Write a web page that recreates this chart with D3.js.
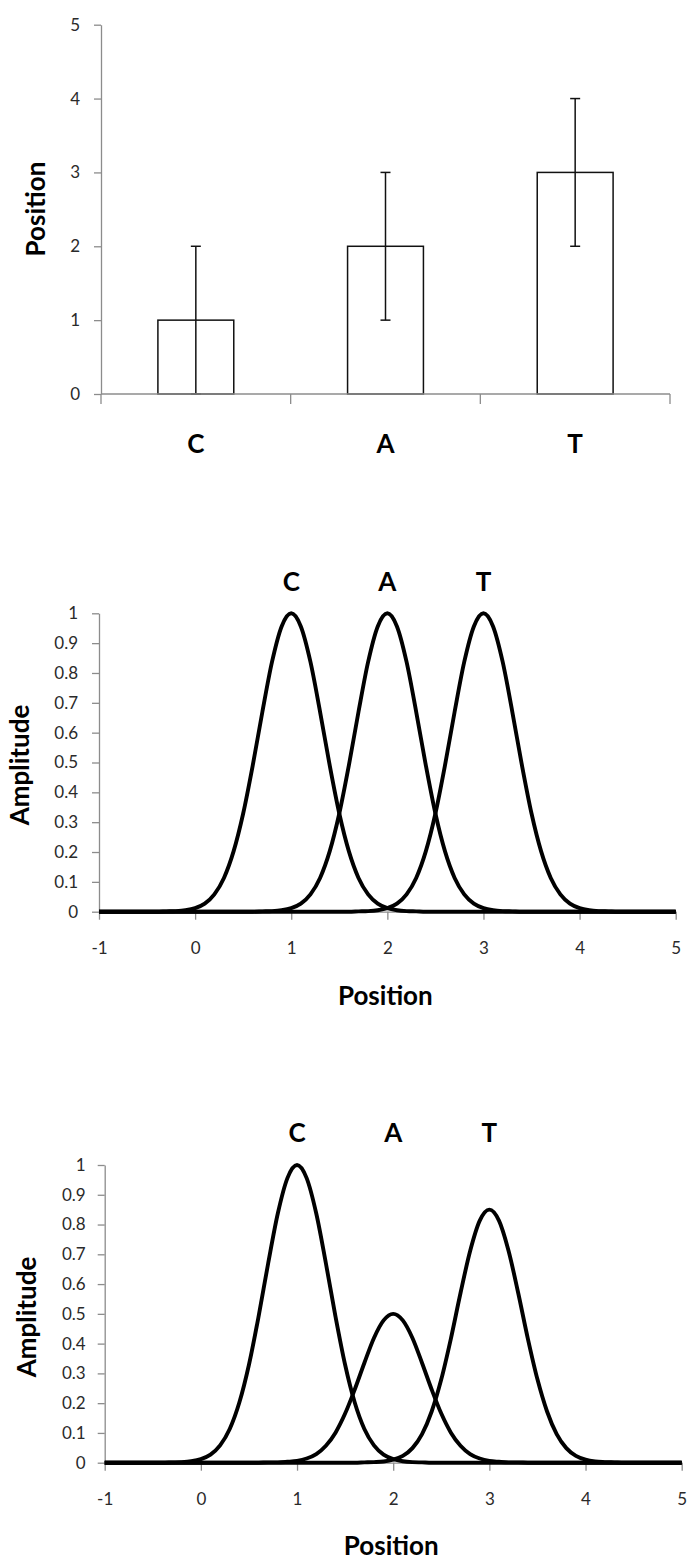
<!DOCTYPE html>
<html><head><meta charset="utf-8">
<script src="https://cdn.jsdelivr.net/npm/d3@7"></script>
<style>
body{margin:0;background:#fff}
svg{display:block}
text{font-family:Lato,"Open Sans",sans-serif}
</style>
</head><body>
<svg id="chart" width="689" height="1563"></svg>
<script>
// ---------- Data: bar chart ----------
const categories = ["C", "A", "T"];
const barValues = [1, 2, 3];
const barErrors = [1, 1, 1];
const barTicks = [0, 1, 2, 3, 4, 5];

// ---------- Data: amplitude charts ----------
const samplePositions = [-1,-0.9,-0.8,-0.7,-0.6,-0.5,-0.4,-0.3,-0.2,-0.1,0,0.1,0.2,0.3,0.4,0.5,0.6,0.7,0.8,0.9,1,1.1,1.2,1.3,1.4,1.5,1.6,1.7,1.8,1.9,2,2.1,2.2,2.3,2.4,2.5,2.6,2.7,2.8,2.9,3,3.1,3.2,3.3,3.4,3.5,3.6,3.7,3.8,3.9,4,4.1,4.2,4.3,4.4,4.5,4.6,4.7,4.8,4.9,5];
const ampTicks = [0, 0.1, 0.2, 0.3, 0.4, 0.5, 0.6, 0.7, 0.8, 0.9, 1];
const posTicks = [-1, 0, 1, 2, 3, 4, 5];
const peakLabels = ["C", "A", "T"];
const peakPositions = [1, 2, 3];

const equalC = [0,0,0,0,0,0,0,
  0.001,0.002,0.005,0.012,0.027,0.058,0.113,0.202,0.329,0.491,0.670,0.837,0.956,1,0.956,0.837,0.670,0.491,0.329,0.202,0.113,0.058,0.027,0.012,0.005,0.002,0.001,
  0,0,0,0,0,0,0,0,0, 0,0,0,0,0,0,0,0,0, 0,0,0,0,0,0,0,0,0];
const equalA = [0,0,0,0,0,0,0,0,0, 0,0,0,0,0,0,0,0,
  0.001,0.002,0.005,0.012,0.027,0.058,0.113,0.202,0.329,0.491,0.670,0.837,0.956,1,0.956,0.837,0.670,0.491,0.329,0.202,0.113,0.058,0.027,0.012,0.005,0.002,0.001,
  0,0,0,0,0,0,0,0,0, 0,0,0,0,0,0,0,0];
const equalT = [0,0,0,0,0,0,0,0,0, 0,0,0,0,0,0,0,0,0, 0,0,0,0,0,0,0,0,0,
  0.001,0.002,0.005,0.012,0.027,0.058,0.113,0.202,0.329,0.491,0.670,0.837,0.956,1,0.956,0.837,0.670,0.491,0.329,0.202,0.113,0.058,0.027,0.012,0.005,0.002,0.001,
  0,0,0,0,0,0,0];

const unequalC = [0,0,0,0,0,0,0,
  0.001,0.002,0.005,0.012,0.027,0.058,0.113,0.202,0.329,0.491,0.670,0.837,0.956,1,0.956,0.837,0.670,0.491,0.329,0.202,0.113,0.058,0.027,0.012,0.005,0.002,0.001,
  0,0,0,0,0,0,0,0,0, 0,0,0,0,0,0,0,0,0, 0,0,0,0,0,0,0,0,0];
const unequalA = [0,0,0,0,0,0,0,0,0, 0,0,0,0,0,0,0,0,
  0.001,0.001,0.003,0.006,0.014,0.029,0.057,0.101,0.165,0.246,0.335,0.419,0.478,0.5,0.478,0.419,0.335,0.246,0.165,0.101,0.057,0.029,0.014,0.006,0.003,0.001,0.001,
  0,0,0,0,0,0,0,0,0, 0,0,0,0,0,0,0,0];
const unequalT = [0,0,0,0,0,0,0,0,0, 0,0,0,0,0,0,0,0,0, 0,0,0,0,0,0,0,0,0,
  0.001,0.002,0.004,0.010,0.023,0.049,0.096,0.172,0.280,0.417,0.570,0.711,0.813,0.85,0.813,0.711,0.570,0.417,0.280,0.172,0.096,0.049,0.023,0.010,0.004,0.002,0.001,
  0,0,0,0,0,0,0];

// ---------- Styling ----------
const axisColor = "#8c8c8c";
const tickTextColor = "#2a2a2a";
const tickFont = 17;
const titleFont = 26;

const svg = d3.select("#chart");

function styleAxis(sel) {
  sel.select(".domain").attr("stroke", axisColor).attr("stroke-width", 1.3);
  sel.selectAll(".tick line").attr("stroke", axisColor).attr("stroke-width", 1.3);
  sel.selectAll(".tick text").attr("fill", tickTextColor).style("font-size", tickFont + "px");
  sel.attr("font-family", null).attr("font-size", null);
}

// ================= Chart 1: bars =================
(function () {
  const x = d3.scaleBand().domain(categories).range([101, 670]);
  const y = d3.scaleLinear().domain([0, 5]).range([394, 24.7]);
  const g = svg.append("g");
  const bw = x.bandwidth();

  g.selectAll("rect.bar").data(categories).join("rect")
    .attr("class", "bar")
    .attr("x", d => x(d) + bw * 0.3)
    .attr("width", bw * 0.4)
    .attr("y", (d, i) => y(barValues[i]))
    .attr("height", (d, i) => y(0) - y(barValues[i]))
    .attr("fill", "#fff").attr("stroke", "#111").attr("stroke-width", 1.5);

  const eb = g.selectAll("g.err").data(categories).join("g").attr("class", "err");
  eb.append("line")
    .attr("x1", d => x(d) + bw / 2).attr("x2", d => x(d) + bw / 2)
    .attr("y1", (d, i) => y(barValues[i] + barErrors[i]))
    .attr("y2", (d, i) => y(barValues[i] - barErrors[i]));
  eb.append("line")
    .attr("x1", d => x(d) + bw / 2 - 5).attr("x2", d => x(d) + bw / 2 + 5)
    .attr("y1", (d, i) => y(barValues[i] + barErrors[i]))
    .attr("y2", (d, i) => y(barValues[i] + barErrors[i]));
  eb.append("line")
    .attr("x1", d => x(d) + bw / 2 - 5).attr("x2", d => x(d) + bw / 2 + 5)
    .attr("y1", (d, i) => y(barValues[i] - barErrors[i]))
    .attr("y2", (d, i) => y(barValues[i] - barErrors[i]));
  eb.selectAll("line").attr("stroke", "#111").attr("stroke-width", 1.5);

  const ya = g.append("g").attr("transform", "translate(101,0)")
    .call(d3.axisLeft(y).tickValues(barTicks).tickSize(7).tickSizeOuter(0).tickPadding(14).tickFormat(d => String(d)));
  styleAxis(ya);

  const bounds = categories.map(c => x(c)).concat([x.range()[1]]);
  g.append("line").attr("x1", x.range()[0]).attr("x2", x.range()[1])
    .attr("y1", y(0)).attr("y2", y(0)).attr("stroke", axisColor).attr("stroke-width", 1.3);
  g.selectAll("line.xt").data(bounds).join("line").attr("class", "xt")
    .attr("x1", d => d).attr("x2", d => d).attr("y1", y(0)).attr("y2", y(0) + 10)
    .attr("stroke", axisColor).attr("stroke-width", 1.3);

  g.selectAll("text.cat").data(categories).join("text").attr("class", "cat")
    .attr("x", d => x(d) + bw / 2).attr("y", 452.5)
    .attr("text-anchor", "middle").attr("font-weight", "bold")
    .style("font-size", titleFont + "px").attr("fill", "#000").text(d => d);

  g.append("text").attr("transform", "translate(45,209) rotate(-90)")
    .attr("text-anchor", "middle").attr("font-weight", "bold")
    .style("font-size", titleFont + "px").attr("fill", "#000").text("Position");
})();

// ================= Chart 2 & 3: amplitude =================
function ampChart(cfg) {
  const x = d3.scaleLinear().domain([-1, 5]).range(cfg.xRange);
  const y = d3.scaleLinear().domain([0, 1]).range(cfg.yRange);
  const g = svg.append("g");

  const ya = g.append("g").attr("transform", `translate(${cfg.xRange[0]},0)`)
    .call(d3.axisLeft(y).tickValues(ampTicks).tickSize(7).tickSizeOuter(0).tickPadding(cfg.yPad).tickFormat(d => String(d)));
  styleAxis(ya);

  const xa = g.append("g").attr("transform", `translate(0,${cfg.yRange[0]})`)
    .call(d3.axisBottom(x).tickValues(posTicks).tickSize(8).tickSizeOuter(0).tickPadding(22).tickFormat(d => String(d)));
  styleAxis(xa);

  const line = d3.line()
    .x((d, i) => x(samplePositions[i]))
    .y(d => y(d))
    .curve(d3.curveMonotoneX);

  g.selectAll("path.curve").data(cfg.series).join("path").attr("class", "curve")
    .attr("d", d => line(d))
    .attr("fill", "none").attr("stroke", "#000").attr("stroke-width", 3.9)
    .attr("stroke-linejoin", "round").attr("stroke-linecap", "butt");

  g.selectAll("text.peak").data(peakLabels).join("text").attr("class", "peak")
    .attr("x", (d, i) => x(peakPositions[i])).attr("y", cfg.peakY)
    .attr("text-anchor", "middle").attr("font-weight", "bold")
    .style("font-size", titleFont + "px").attr("fill", "#000").text(d => d);

  g.append("text").attr("x", (cfg.xRange[0] + cfg.xRange[1]) / 2 - 2).attr("y", cfg.xTitleY)
    .attr("text-anchor", "middle").attr("font-weight", "bold")
    .style("font-size", titleFont + "px").attr("fill", "#000").text("Position");

  g.append("text").attr("transform", `translate(${cfg.yTitleX},${cfg.yTitleCY}) rotate(-90)`)
    .attr("text-anchor", "middle").attr("font-weight", "bold")
    .style("font-size", titleFont + "px").attr("fill", "#000").text("Amplitude");
}

ampChart({
  xRange: [99, 675.7], yRange: [911.7, 613.3], yPad: 14,
  series: [equalC, equalA, equalT],
  peakY: 591, xTitleY: 1005, yTitleX: 29, yTitleCY: 765
});

ampChart({
  xRange: [104.7, 681.7], yRange: [1462.7, 1165], yPad: 12,
  series: [unequalC, unequalA, unequalT],
  peakY: 1142, xTitleY: 1555, yTitleX: 36, yTitleCY: 1317
});
</script>
</body></html>
